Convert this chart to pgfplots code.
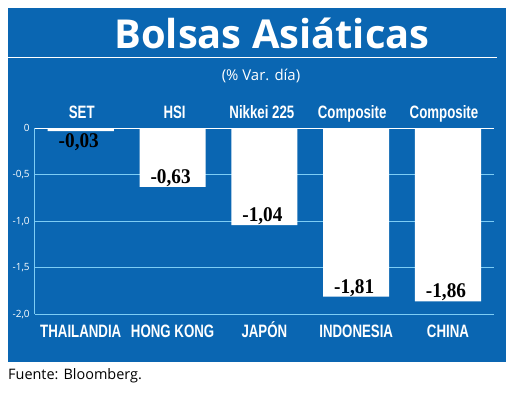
\documentclass[border=0pt]{standalone}
\usepackage{pgfplots}
\usepackage{pgfplotstable}
\pgfplotsset{compat=1.18}
\usepackage{fontspec}
\setmainfont{Open Sans}
\newfontfamily\condfont[FakeStretch=0.74]{Liberation Sans}
\newfontfamily\valfont[FakeStretch=0.92]{Liberation Serif}
\definecolor{bgblue}{RGB}{10,102,178}
\definecolor{gridcyan}{RGB}{125,205,245}

\pgfplotstableread{
x y off lab
0 -0.03 -16 -0,03
1 -0.63 3.5 -0,63
2 -1.04 3.5 -1,04
3 -1.81 3.5 -1,81
4 -1.86 3.5 -1,86
}\datatable

\begin{document}
\begin{tikzpicture}[x=1bp,y=1bp]
\useasboundingbox (0,0) rectangle (520,392);
\fill[white] (0,0) rectangle (520,392);
\fill[bgblue] (8,30) rectangle (506,384);
\draw[white, line width=1.2bp] (8,334.7) -- (497,334.7);
\node[anchor=base, text=white, font=\fontsize{40}{40}\selectfont\bfseries, inner sep=0] at (272,344) {Bolsas Asiáticas};
\node[anchor=base, text=white, font=\fontsize{15}{15}\selectfont, inner sep=0] at (261,312) {(\% Var. día)};
\node[anchor=base west, font=\fontsize{14.5}{14.5}\selectfont, inner sep=0] at (8,13) {Fuente: Bloomberg.};
\begin{axis}[
  at={(38,83.5)}, anchor=south west,
  scale only axis, width=459bp, height=186bp,
  xmin=-0.5, xmax=4.5, ymin=-2, ymax=0,
  axis y line*=left, axis x line*=bottom,
  x axis line style={draw=none},
  y axis line style={gridcyan, line width=1bp},
  major tick length=0,
  ymajorgrids, grid style={gridcyan, line width=1bp},
  ytick={-2,-1.5,-1,-0.5},
  yticklabels={{-2,0},{-1,5},{-1,0},{-0,5}},
  extra y ticks={0}, extra y tick labels={0},
  extra y tick style={grid style={white, line width=1.6bp}},
  yticklabel style={font=\fontsize{10}{10}\selectfont, text=white, inner sep=0, xshift=-5bp},
  xtick={0,...,4},
  xticklabels={THAILANDIA, HONG KONG, JAPÓN, INDONESIA, CHINA},
  xticklabel style={font=\condfont\bfseries\fontsize{18}{18}\selectfont, text=white, anchor=base, yshift=-23bp, inner sep=0},
  ybar, bar width=0.72,
  point meta=explicit symbolic,
  visualization depends on={\thisrow{off} \as \labeloff},
  nodes near coords={\pgfplotspointmeta},
  every node near coord/.append style={font=\valfont\bfseries\fontsize{21}{21}\selectfont, text=black, anchor=base, yshift=\labeloff bp, xshift=-2bp, inner sep=0},
  clip=false,
]
\addplot[fill=white, draw=none] table[x=x, y=y, meta=lab] {\datatable};
\node[anchor=base, text=white, font=\condfont\bfseries\fontsize{18}{18}\selectfont, inner sep=0, xshift=1bp, yshift=10bp] at (axis cs:0,0) {SET};
\node[anchor=base, text=white, font=\condfont\bfseries\fontsize{18}{18}\selectfont, inner sep=0, xshift=2bp, yshift=10bp] at (axis cs:1,0) {HSI};
\node[anchor=base, text=white, font=\condfont\bfseries\fontsize{18}{18}\selectfont, inner sep=0, xshift=-2.5bp, yshift=10bp] at (axis cs:2,0) {Nikkei 225};
\node[anchor=base, text=white, font=\condfont\bfseries\fontsize{18}{18}\selectfont, inner sep=0, xshift=-4bp, yshift=10bp] at (axis cs:3,0) {Composite};
\node[anchor=base, text=white, font=\condfont\bfseries\fontsize{18}{18}\selectfont, inner sep=0, xshift=-4bp, yshift=10bp] at (axis cs:4,0) {Composite};
\end{axis}
\end{tikzpicture}
\end{document}
